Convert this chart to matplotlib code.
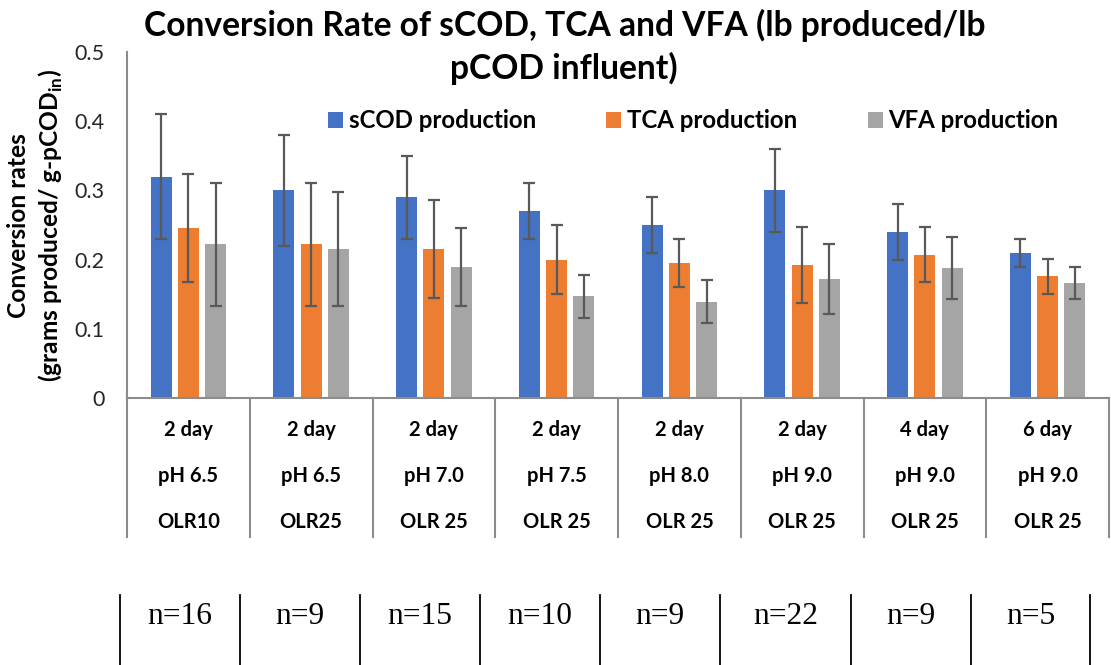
import matplotlib
matplotlib.use("Agg")
import matplotlib.pyplot as plt
import matplotlib.transforms as mtransforms
import numpy as np

plt.rcParams['font.family'] = ['Lato', 'DejaVu Sans']
plt.rcParams['mathtext.fontset'] = 'custom'
plt.rcParams['mathtext.rm'] = 'Lato'
plt.rcParams['mathtext.bf'] = 'Lato:bold'

# ---- data ----
cat_hrt = ["2 day", "2 day", "2 day", "2 day", "2 day", "2 day", "4 day", "6 day"]
cat_ph = ["pH 6.5", "pH 6.5", "pH 7.0", "pH 7.5", "pH 8.0", "pH 9.0", "pH 9.0", "pH 9.0"]
cat_olr = ["OLR10", "OLR25", "OLR 25", "OLR 25", "OLR 25", "OLR 25", "OLR 25", "OLR 25"]
n_labels = ["n=16", "n=9", "n=15", "n=10", "n=9", "n=22", "n=9", "n=5"]

series_names = ["sCOD production", "TCA production", "VFA production"]
scod = [0.320, 0.300, 0.290, 0.270, 0.250, 0.300, 0.240, 0.210]
scod_err = [0.090, 0.080, 0.060, 0.040, 0.040, 0.060, 0.040, 0.020]
tca = [0.246, 0.222, 0.215, 0.200, 0.195, 0.192, 0.207, 0.176]
tca_err = [0.078, 0.089, 0.071, 0.050, 0.035, 0.055, 0.040, 0.025]
vfa = [0.222, 0.215, 0.189, 0.147, 0.139, 0.172, 0.188, 0.166]
vfa_err = [0.089, 0.082, 0.056, 0.031, 0.031, 0.050, 0.045, 0.023]
yticks = [0, 0.1, 0.2, 0.3, 0.4, 0.5]
ytick_labels = ["0", "0.1", "0.2", "0.3", "0.4", "0.5"]

colors = ["#4472C4", "#ED7D31", "#A5A5A5"]

W, H = 1111, 665
fig = plt.figure(figsize=(W / 100, H / 100), dpi=100)
renderer = fig.canvas.get_renderer()


def fit_size(text, target_px, vertical=False, **kw):
    """Return font size so that `text` spans target_px pixels."""
    t = fig.text(0, 0, text, fontsize=20, rotation=90 if vertical else 0, **kw)
    bb = t.get_window_extent(renderer)
    span = bb.height if vertical else bb.width
    t.remove()
    return 20 * target_px / span


fs_title = fit_size("Conversion Rate of sCOD, TCA and VFA (lb produced/lb", 844, fontweight='bold')
fs_leg = fit_size("sCOD production", 187, fontweight='bold')
fs_tick = fit_size("0.5", 30)
fs_cat = fit_size("pH 6.5", 60, fontweight='bold')
fs_n = fit_size("n=16", 65, family='Liberation Serif')
ylab2 = r"(grams produced/ g-pCOD$_{\mathbf{in}}$)"
fs_ylab = fit_size(ylab2, 312, vertical=True, fontweight='bold')

ax = fig.add_axes([127 / W, 1 - 398 / H, (1109 - 127) / W, (398 - 52) / H])

x = np.arange(len(cat_hrt))
offs = [-0.222, 0.0, 0.222]
bw = 0.172
for vals, errs, off, col, name in zip([scod, tca, vfa], [scod_err, tca_err, vfa_err], offs, colors, series_names):
    ax.bar(x + off, vals, width=bw, color=col, label=name, zorder=2)
    ax.errorbar(x + off, vals, yerr=errs, fmt='none', ecolor='#595959',
                elinewidth=1.6, capsize=4.5, capthick=1.6, zorder=3)

ax.set_xlim(-0.5, len(cat_hrt) - 0.5)
ax.set_ylim(0, 0.5)
ax.set_yticks(yticks)
ax.set_yticklabels(ytick_labels)
ax.tick_params(axis='y', length=0, labelsize=fs_tick, labelcolor='#262626', pad=16)
ax.tick_params(axis='x', length=0, labelbottom=False)
for s in ['top', 'right']:
    ax.spines[s].set_visible(False)
for s in ['left', 'bottom']:
    ax.spines[s].set_color('#8c8c8c')
    ax.spines[s].set_linewidth(1.5)

# category table beneath axis
trans = mtransforms.blended_transform_factory(ax.transData, ax.transAxes)
ybot = -(537 - 398) / (398 - 52)
for b in np.arange(-0.5, len(cat_hrt), 1.0):
    ax.plot([b, b], [0, ybot], transform=trans, color='#8c8c8c', lw=1.5, clip_on=False)
rows = [(430, cat_hrt), (476, cat_ph), (522, cat_olr)]
for ypx, labels in rows:
    ya = -(ypx - 398) / (398 - 52)
    for xi, lab in zip(x, labels):
        ax.text(xi, ya, lab, transform=trans, ha='center', va='center',
                fontsize=fs_cat, fontweight='bold', color='black')

# n= row
n_lines = [120, 240, 360, 480, 600, 720, 851, 971, 1090]
for lx in n_lines:
    fig.add_artist(plt.Line2D([lx / W, lx / W], [1 - 595 / H, 0], color='black', lw=1.3))
for i, lab in enumerate(n_labels):
    cx = (n_lines[i] + n_lines[i + 1]) / 2
    fig.text(cx / W, 1 - 616 / H, lab, ha='center', va='center', fontsize=fs_n,
             family='Liberation Serif', color='black')

# title
fig.text(565 / W, 1 - 25 / H, "Conversion Rate of sCOD, TCA and VFA (lb produced/lb",
         ha='center', va='center', fontsize=fs_title, fontweight='bold')
fig.text(564 / W, 1 - 68 / H, "pCOD influent)", ha='center', va='center',
         fontsize=fs_title, fontweight='bold')

# y label
fig.text(19 / W, 1 - 226 / H, "Conversion rates", rotation=90, ha='center', va='center',
         fontsize=fs_ylab, fontweight='bold')
fig.text(51 / W, 1 - 226 / H, ylab2, rotation=90,
         ha='center', va='center', fontsize=fs_ylab, fontweight='bold')

# legend
px_per_em = fs_leg * 100 / 72
ax.legend(loc='center left', bbox_to_anchor=(328 / W, 1 - 121 / H), bbox_transform=fig.transFigure,
          ncol=3, frameon=False, borderpad=0, borderaxespad=0,
          handlelength=15 / px_per_em, handleheight=15 / px_per_em,
          handletextpad=6 / px_per_em, columnspacing=70 / px_per_em,
          prop={'weight': 'bold', 'size': fs_leg})

fig.savefig("out.png", dpi=100)
